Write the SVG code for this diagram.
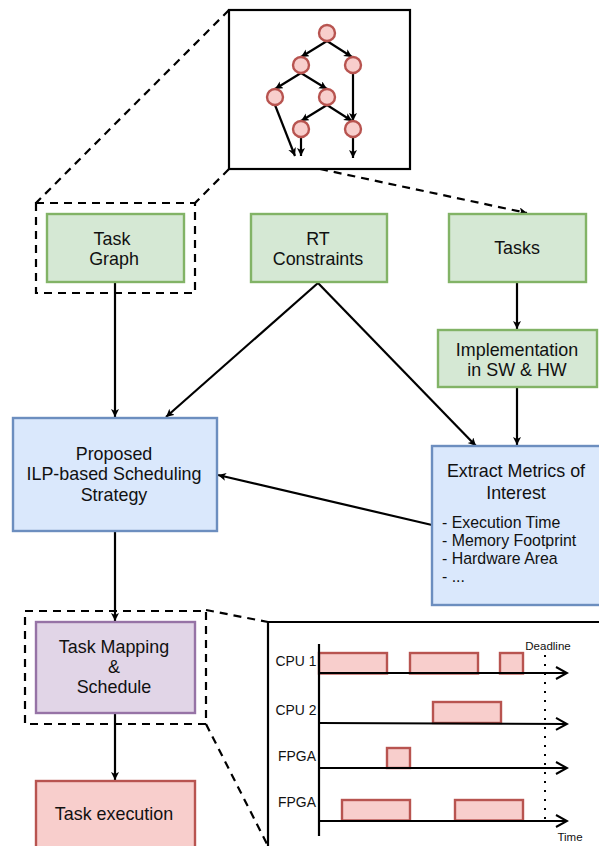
<svg xmlns="http://www.w3.org/2000/svg" width="599" height="846" viewBox="0 0 599 846">
<style>
text{font-family:"Liberation Sans",Arial,sans-serif;fill:#111;text-anchor:middle}
.t{font-size:17.9px}
.m{font-size:15.9px;text-anchor:start}
.s{font-size:13.9px}
.xs{font-size:11.5px}
.g{fill:#d5e8d4;stroke:#82b366;stroke-width:2.400}
.b{fill:#dae8fc;stroke:#6c8ebf;stroke-width:2.400}
.p{fill:#e1d5e7;stroke:#9673a6;stroke-width:2.400}
.r{fill:#f8cecc;stroke:#b85450;stroke-width:2.400}
.l{fill:none;stroke:#000;stroke-width:2.200}
.d{fill:none;stroke:#000;stroke-width:2.200;stroke-dasharray:8 6}
.c{fill:#f8cecc;stroke:#b85450;stroke-width:2.400}
</style>
<defs>
<marker id="a" markerUnits="userSpaceOnUse" markerWidth="10" markerHeight="10" refX="8" refY="4" orient="auto"><path d="M0 0L8 4L0 8L2 4Z" fill="#000"/></marker>
<marker id="o" markerUnits="userSpaceOnUse" markerWidth="14" markerHeight="16" refX="12" refY="7" orient="auto"><path d="M1 1L12 7L1 13" fill="none" stroke="#000" stroke-width="2"/></marker>
</defs>
<g id="connectors">
<path class="l" marker-end="url(#a)" d="M115 283V417"/>
<path class="l" marker-end="url(#a)" d="M318 283L166 417"/>
<path class="l" marker-end="url(#a)" d="M318 283L476 446"/>
<path class="l" marker-end="url(#a)" d="M517 283V329"/>
<path class="l" marker-end="url(#a)" d="M517 387V445"/>
<path class="l" marker-end="url(#a)" d="M432 525L218 475"/>
<path class="l" marker-end="url(#a)" d="M115 532V621"/>
<path class="l" marker-end="url(#a)" d="M115 713V780"/>
<path class="d" d="M229 10L36 203"/>
<path class="d" d="M229 169L195 203"/>
<path class="d" marker-end="url(#a)" d="M320 169L527 213"/>
<path class="d" d="M206 610L268 622"/>
<path class="d" d="M206 724L268 846"/>
</g>
<g id="zoom-task-graph">
<rect x="229" y="10" width="181" height="159" fill="#fff" stroke="#000" stroke-width="2.200"/>
<g fill="none" stroke="#000" stroke-width="2.200">
<path marker-end="url(#a)" d="M327 41L301 57"/>
<path marker-end="url(#a)" d="M327 41L352 57"/>
<path marker-end="url(#a)" d="M301 73L275 89"/>
<path marker-end="url(#a)" d="M301 73L327 89"/>
<path marker-end="url(#a)" d="M353 73V121"/>
<path marker-end="url(#a)" d="M327 105L301 121"/>
<path marker-end="url(#a)" d="M327 105L352 121"/>
<path marker-end="url(#a)" d="M275 105L295 156"/>
<path marker-end="url(#a)" d="M301 137V156"/>
<path marker-end="url(#a)" d="M353 137V158"/>
</g>
<circle class="c" cx="327" cy="33" r="8"/>
<circle class="c" cx="301" cy="65" r="8"/>
<circle class="c" cx="353" cy="65" r="8"/>
<circle class="c" cx="275" cy="97" r="8"/>
<circle class="c" cx="327" cy="97" r="8"/>
<circle class="c" cx="301" cy="129" r="8"/>
<circle class="c" cx="353" cy="129" r="8"/>
</g>
<g id="task-graph-frame"><rect class="d" x="36" y="203" width="159" height="90"/></g>
<g id="task-graph"><rect class="g" x="47" y="214" width="137" height="68"/><text class="t" x="112" y="245">Task</text><text class="t" x="114" y="265">Graph</text></g>
<g id="rt-constraints"><rect class="g" x="251" y="214" width="136" height="68"/><text class="t" x="318" y="245">RT</text><text class="t" x="318" y="265">Constraints</text></g>
<g id="tasks"><rect class="g" x="449" y="214" width="137" height="68"/><text class="t" x="517" y="254">Tasks</text></g>
<g id="implementation"><rect class="g" x="438" y="330" width="159" height="57"/><text class="t" x="517" y="356">Implementation</text><text class="t" x="517" y="376">in SW &amp; HW</text></g>
<g id="ilp"><rect class="b" x="13" y="418" width="204" height="113"/><text class="t" x="114" y="460">Proposed</text><text class="t" x="114" y="480">ILP-based Scheduling</text><text class="t" x="114" y="501">Strategy</text></g>
<g id="metrics"><rect class="b" x="432" y="446" width="170" height="159"/><text class="t" x="516" y="477">Extract Metrics of</text><text class="t" x="516" y="499">Interest</text><text class="m" x="442" y="528">- Execution Time</text><text class="m" x="442" y="546">- Memory Footprint</text><text class="m" x="442" y="564">- Hardware Area</text><text class="m" x="442" y="582">- ...</text></g>
<g id="mapping-frame"><rect class="d" x="25" y="611" width="181" height="113"/></g>
<g id="mapping"><rect class="p" x="36" y="622" width="159" height="91"/><text class="t" x="114" y="653">Task Mapping</text><text class="t" x="114" y="673">&amp;</text><text class="t" x="114" y="693">Schedule</text></g>
<g id="execution"><rect class="r" x="36" y="781" width="159" height="75"/><text class="t" x="114" y="820">Task execution</text></g>
<g id="gantt">
<path fill="#fff" stroke="#000" stroke-width="2.200" d="M268 846V622H600"/>
<g><rect class="r" x="319" y="653" width="68" height="20.500"/><rect class="r" x="410" y="653" width="68" height="20.500"/><rect class="r" x="500" y="653" width="23" height="20.500"/><rect class="r" x="433" y="702" width="68" height="21"/><rect class="r" x="387" y="748" width="23" height="20"/><rect class="r" x="342" y="800" width="68" height="20.500"/><rect class="r" x="455" y="800" width="68" height="20.500"/></g>
<path class="l" d="M319 644V836"/>
<path class="l" marker-end="url(#o)" d="M319 673H567"/>
<path class="l" marker-end="url(#o)" d="M319 723L567 724"/>
<path class="l" marker-end="url(#o)" d="M319 768H567"/>
<path class="l" marker-end="url(#o)" d="M319 821H567"/>
<path fill="none" stroke="#000" stroke-width="2" stroke-dasharray="2 7" d="M545 655V821"/>
<text class="s" x="296" y="666">CPU 1</text><text class="s" x="296" y="715">CPU 2</text><text class="s" x="297" y="761">FPGA</text><text class="s" x="297" y="807">FPGA</text>
<text class="xs" x="548" y="650">Deadline</text><text class="xs" x="570" y="841">Time</text>
</g>
</svg>
